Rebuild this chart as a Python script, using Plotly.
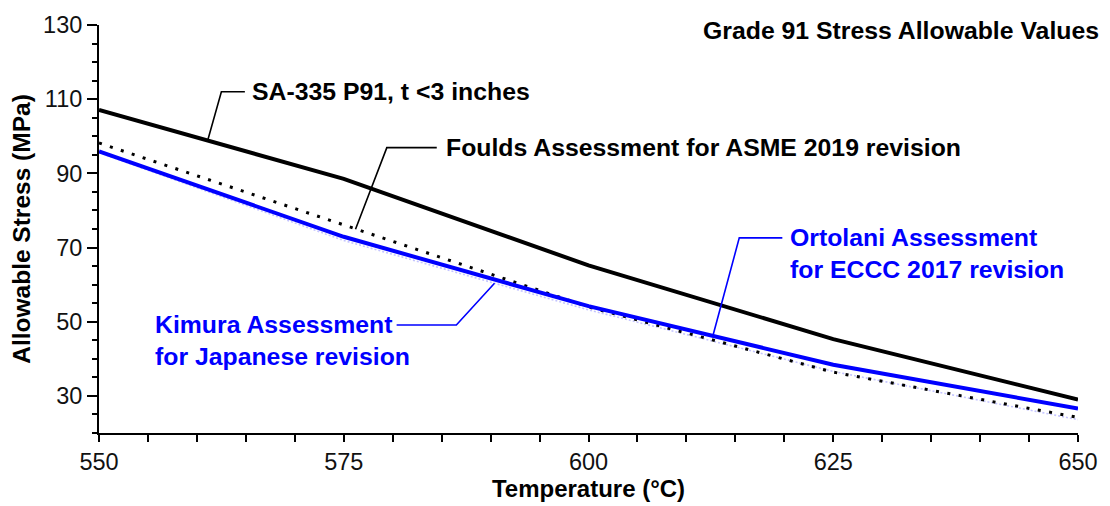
import numpy as np
import plotly.graph_objects as go

# Temperatures (°C) and allowable stresses (MPa)
temps = [550, 575, 600, 625, 650]
sa335_p91 = [107.1, 88.5, 65.2, 45.3, 29.0]
foulds_asme2019 = [98.2, 76.0, 54.0, 36.4, 24.2]
ortolani_eccc2017 = [95.9, 72.9, 54.2, 38.4, 26.6]
kimura_japan = [95.6, 71.9, 53.2, 36.6, 23.6]

x_ticks = [550, 575, 600, 625, 650]
y_ticks = [30, 50, 70, 90, 110, 130]

BLUE = "#0000ff"
FONT = "Liberation Sans, Arial, sans-serif"

fig = go.Figure()
fig.add_trace(go.Scatter(x=temps, y=kimura_japan, mode="lines",
                         line=dict(color="#c4c4ff", width=1.6, dash="2px,2px")))
fig.add_trace(go.Scatter(x=temps, y=foulds_asme2019, mode="lines",
                         line=dict(color="black", width=3, dash="3px,8.5px")))
fig.add_trace(go.Scatter(x=temps, y=ortolani_eccc2017, mode="lines",
                         line=dict(color=BLUE, width=4)))
fig.add_trace(go.Scatter(x=temps, y=sa335_p91, mode="lines",
                         line=dict(color="black", width=4)))


def on_curve(series, t):
    return float(np.interp(t, temps, series))


# Labels with elbow leader lines:
# (text, colour, series, anchor T, elbow T, elbow S, end T, text T, text S)
labels = [
    ("SA-335 P91, t <3 inches", "black", sa335_p91, 561.1, 562.5, 112.0, 564.9, 565.4, 112.0),
    ("Foulds Assessment for ASME 2019 revision", "black", foulds_asme2019, 576.2, 579.4, 96.95, 584.5, 585.2, 96.95),
    ("Ortolani Assessment<br>for ECCC 2017 revision", BLUE, ortolani_eccc2017, 612.7, 615.4, 72.6, 619.8, 620.4, 68.3),
    ("Kimura Assessment<br>for Japanese revision", BLUE, kimura_japan, 590.4, 586.5, 49.1, 580.4, 555.5, 45.0),
]

shapes = []
annotations = []
for text, color, series, t_a, t_e, s_e, t_end, t_txt, s_txt in labels:
    s_a = on_curve(series, t_a)
    shapes.append(dict(type="path", xref="x", yref="y",
                       path=f"M {t_a},{s_a} L {t_e},{s_e} L {t_end},{s_e}",
                       line=dict(color=color, width=1.6)))
    annotations.append(dict(x=t_txt, y=s_txt, xref="x", yref="y", text=f"<b>{text}</b>",
                            showarrow=False, xanchor="left", yanchor="middle", align="left",
                            font=dict(family=FONT, size=24.8, color=color)))

annotations.append(dict(x=1.024, y=0.986, xref="paper", yref="paper",
                        text="<b>Grade 91 Stress Allowable Values</b>", showarrow=False,
                        xanchor="right", yanchor="middle",
                        font=dict(family=FONT, size=24.8, color="black")))

fig.update_layout(
    width=1110, height=506,
    margin=dict(l=99, r=28, t=21, b=69),
    paper_bgcolor="white", plot_bgcolor="white",
    showlegend=False,
    shapes=shapes, annotations=annotations,
    font=dict(family=FONT, color="#111"),
    xaxis=dict(range=[550, 650], tickvals=x_ticks, ticktext=[str(v) for v in x_ticks],
               showgrid=False, zeroline=False, showline=True, linecolor="black", linewidth=2,
               ticks="outside", ticklen=7, tickwidth=2, tickcolor="black",
               tickfont=dict(family=FONT, size=23.5, color="#111"),
               minor=dict(dtick=5, tick0=550, ticks="outside", ticklen=7, tickwidth=2, tickcolor="black"),
               title=dict(text="<b>Temperature (°C)</b>", font=dict(family=FONT, size=24, color="black"),
                          standoff=2)),
    yaxis=dict(range=[20, 130], tickvals=y_ticks, ticktext=[str(v) for v in y_ticks],
               showgrid=False, zeroline=False, showline=True, linecolor="black", linewidth=2,
               ticks="outside", ticklen=10, tickwidth=2, tickcolor="black",
               tickfont=dict(family=FONT, size=23.5, color="#111"),
               minor=dict(dtick=5, tick0=20, ticks="outside", ticklen=5, tickwidth=2, tickcolor="black"),
               title=dict(text="<b>Allowable Stress (MPa)</b>", font=dict(family=FONT, size=24.5, color="black"),
                          standoff=6)),
)

fig.write_html("out.html")
